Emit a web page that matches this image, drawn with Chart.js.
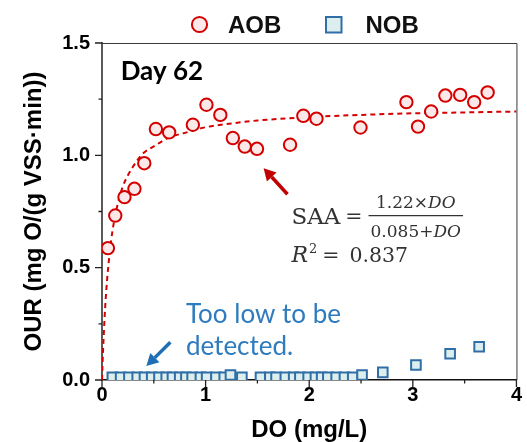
<!DOCTYPE html>
<html><head><meta charset="utf-8">
<script src="https://cdn.jsdelivr.net/npm/chart.js@4"></script>
<style>html,body{margin:0;padding:0;background:#fff}#wrap{width:527px;height:442px}</style>
</head><body><div id="wrap"><canvas id="c" width="527" height="442"></canvas></div>
<script>
// ---- data ----
const aobDO  = [0.057,0.128,0.217,0.313,0.408,0.52,0.648,0.877,1.008,1.142,1.263,1.378,1.496,1.815,1.943,2.07,2.495,2.938,3.05,3.177,3.314,3.457,3.592,3.722];
const aobOUR = [0.587,0.732,0.814,0.851,0.965,1.117,1.102,1.136,1.225,1.18,1.077,1.039,1.029,1.047,1.176,1.163,1.124,1.237,1.128,1.195,1.266,1.269,1.237,1.28];
const nobDO  = [0.1,0.18,0.26,0.34,0.41,0.48,0.55,0.62,0.68,0.75,0.81,0.87,0.95,1.01,1.1,1.18,1.24,1.35,1.53,1.62,1.68,1.77,1.85,1.91,1.99,2.06,2.12,2.18,2.26,2.34,2.42,2.51,2.71,3.03,3.36,3.64];
const nobOUR = [0.012,0.012,0.012,0.012,0.012,0.012,0.012,0.012,0.012,0.012,0.012,0.012,0.012,0.012,0.012,0.012,0.022,0.012,0.012,0.012,0.012,0.012,0.012,0.012,0.012,0.012,0.012,0.012,0.012,0.012,0.012,0.022,0.034,0.067,0.117,0.148];
const fitDO  = [0,0.005,0.01,0.02,0.03,0.05,0.075,0.1,0.15,0.2,0.3,0.4,0.5,0.65,0.8,1.0,1.25,1.5,2.0,2.5,3.0,3.5,4.0];
const fitOUR = [0,0.07,0.13,0.23,0.32,0.45,0.57,0.66,0.78,0.86,0.95,1.01,1.04,1.08,1.10,1.125,1.142,1.155,1.17,1.18,1.187,1.191,1.195];
const seriesNames = ['AOB','NOB'];
const xTickValues = [0,1,2,3,4];
const xTickLabels = ['0','1','2','3','4'];
const xMinorTicks = [0.5,1.5,2.5,3.5];
const yTickValues = [0,0.5,1,1.5];
const yTickLabels = ['0.0','0.5','1.0','1.5'];
const yMinorTicks = [0.25,0.75,1.25];
const xTitle = 'DO (mg/L)';
const yTitle = 'OUR (mg O/(g VSS·min))';
const dayLabel = 'Day 62';
const noteLines = ['Too low to be','detected.'];
const eqNum = ['1.22','×','DO'];
const eqDen = ['0.085','+','DO'];
const r2Value = '0.837';

// ---- styles ----
const SANS = '"Liberation Sans", Arial, sans-serif';
const LATO = 'Lato, "Open Sans", sans-serif';
const SERIF = '"DejaVu Serif", serif';
const RED = '#d40000', RED_FILL = '#fbe9e9';
const BLUE = '#2f6ea6', BLUE_FILL = '#dcefee';
const NOTE_BLUE = '#2e7bbd';
const EQ_COLOR = '#333333';

const toXY = (xs, ys) => xs.map((v, i) => ({x: v, y: ys[i]}));

const annot = {
  day: {x: 0.18, y: 1.336},
  eq: {x: 1.828, y: 0.732},
  r2: {x: 1.828, y: 0.526},
  note: {x: 0.81, y1: 0.254, y2: 0.111},
  redArrow: {x1: 1.79, y1: 0.827, x2: 1.56, y2: 0.943},
  blueArrow: {x1: 0.66, y1: 0.168, x2: 0.428, y2: 0.062}
};

function arrow(ctx, x1, y1, x2, y2, color, lw, head, hw) {
  const a = Math.atan2(y2 - y1, x2 - x1);
  const bx = x2 - head * Math.cos(a), by = y2 - head * Math.sin(a);
  ctx.save();
  ctx.strokeStyle = color; ctx.fillStyle = color; ctx.lineWidth = lw;
  ctx.beginPath(); ctx.moveTo(x1, y1); ctx.lineTo(bx, by); ctx.stroke();
  ctx.beginPath();
  ctx.moveTo(x2, y2);
  ctx.lineTo(bx + hw * Math.sin(a), by - hw * Math.cos(a));
  ctx.lineTo(bx - hw * Math.sin(a), by + hw * Math.cos(a));
  ctx.closePath(); ctx.fill();
  ctx.restore();
}

function drawSeq(ctx, parts, x, y) {
  let cx = x;
  for (const [t, f] of parts) { ctx.font = f; ctx.fillText(t, cx, y); cx += ctx.measureText(t).width; }
  return cx - x;
}
function seqWidth(ctx, parts) {
  let w = 0;
  for (const [t, f] of parts) { ctx.font = f; w += ctx.measureText(t).width; }
  return w;
}

const decorations = {
  id: 'decorations',
  afterDraw(chart) {
    const {ctx, chartArea: ca, scales: {x, y}} = chart;
    ctx.save();
    // frame top & right
    ctx.strokeStyle = '#3a3a3a'; ctx.lineWidth = 1;
    ctx.beginPath();
    ctx.moveTo(ca.left, ca.top + 0.5); ctx.lineTo(ca.right + 0.5, ca.top + 0.5); ctx.lineTo(ca.right + 0.5, ca.bottom);
    ctx.stroke();
    // ticks
    ctx.strokeStyle = '#222'; ctx.lineWidth = 1.3;
    ctx.beginPath();
    xTickValues.forEach(v => { const p = x.getPixelForValue(v); ctx.moveTo(p, ca.bottom); ctx.lineTo(p, ca.bottom + 7); });
    xMinorTicks.forEach(v => { const p = x.getPixelForValue(v); ctx.moveTo(p, ca.bottom); ctx.lineTo(p, ca.bottom + 3.5); });
    yTickValues.forEach(v => { const p = y.getPixelForValue(v); ctx.moveTo(ca.left, p); ctx.lineTo(ca.left - 7, p); });
    yMinorTicks.forEach(v => { const p = y.getPixelForValue(v); ctx.moveTo(ca.left, p); ctx.lineTo(ca.left - 3.5, p); });
    ctx.stroke();

    // legend
    ctx.lineWidth = 2;
    ctx.strokeStyle = RED; ctx.fillStyle = RED_FILL;
    ctx.beginPath(); ctx.arc(199.5, 24.5, 7.6, 0, Math.PI * 2); ctx.fill(); ctx.stroke();
    ctx.strokeStyle = BLUE; ctx.fillStyle = BLUE_FILL;
    ctx.beginPath(); ctx.rect(326, 17, 15.5, 15.5); ctx.fill(); ctx.stroke();
    ctx.fillStyle = '#111'; ctx.font = 'bold 24px ' + SANS; ctx.textBaseline = 'alphabetic'; ctx.textAlign = 'left';
    ctx.fillText(seriesNames[0], 228, 33);
    ctx.fillText(seriesNames[1], 365.5, 33);

    // Day label
    ctx.fillStyle = '#000'; ctx.font = 'bold 26px ' + LATO;
    ctx.fillText(dayLabel, x.getPixelForValue(annot.day.x), y.getPixelForValue(annot.day.y));

    // note
    ctx.fillStyle = NOTE_BLUE; ctx.font = '26px ' + LATO;
    ctx.fillText(noteLines[0], x.getPixelForValue(annot.note.x), y.getPixelForValue(annot.note.y1));
    ctx.fillText(noteLines[1], x.getPixelForValue(annot.note.x), y.getPixelForValue(annot.note.y2));

    // arrows
    const ra = annot.redArrow, ba = annot.blueArrow;
    arrow(ctx, x.getPixelForValue(ra.x1), y.getPixelForValue(ra.y1), x.getPixelForValue(ra.x2), y.getPixelForValue(ra.y2), '#c00000', 3.5, 12, 6.5);
    arrow(ctx, x.getPixelForValue(ba.x1), y.getPixelForValue(ba.y1), x.getPixelForValue(ba.x2), y.getPixelForValue(ba.y2), '#1f6fb5', 3.5, 12, 6.5);

    // equation
    const ex = x.getPixelForValue(annot.eq.x), ey = y.getPixelForValue(annot.eq.y);
    const FC = '23px ' + SERIF, F = '20.5px ' + SERIF, FI = 'italic 22px ' + SERIF, FS = '17px ' + SERIF, FSI = 'italic 17px ' + SERIF;
    ctx.fillStyle = EQ_COLOR; ctx.strokeStyle = EQ_COLOR;
    let w = drawSeq(ctx, [['SAA', FC]], ex, ey + 8);
    const eqX = ex + w + 5;
    ctx.font = F; ctx.fillText('=', eqX, ey + 7);
    const fracL = eqX + ctx.measureText('=').width + 6;
    const numParts = [[eqNum[0], FS], [eqNum[1], FS], [eqNum[2], FSI]];
    const denParts = [[eqDen[0], FS], [eqDen[1], FS], [eqDen[2], FSI]];
    const nw = seqWidth(ctx, numParts), dw = seqWidth(ctx, denParts);
    const fw = Math.max(nw, dw) + 4;
    ctx.lineWidth = 1.2;
    ctx.beginPath(); ctx.moveTo(fracL, ey); ctx.lineTo(fracL + fw, ey); ctx.stroke();
    drawSeq(ctx, numParts, fracL + (fw - nw) / 2, ey - 8);
    drawSeq(ctx, denParts, fracL + (fw - dw) / 2, ey + 21);

    // R^2
    const rx = x.getPixelForValue(annot.r2.x), ry = y.getPixelForValue(annot.r2.y);
    let cx = rx;
    ctx.font = FI; ctx.fillText('R', cx, ry); cx += ctx.measureText('R').width + 1;
    ctx.font = '13px ' + SERIF; ctx.fillText('2', cx, ry - 9); cx += ctx.measureText('2').width + 5;
    ctx.font = F; ctx.fillText('=', cx, ry); cx += ctx.measureText('=').width + 10;
    ctx.fillText(r2Value, cx, ry);
    ctx.restore();
  }
};

new Chart(document.getElementById('c'), {
  type: 'scatter',
  data: {
    datasets: [
      {label: 'fit', type: 'line', data: toXY(fitDO, fitOUR), borderColor: RED, borderWidth: 2, borderDash: [5, 4],
       pointRadius: 0, fill: false, cubicInterpolationMode: 'monotone', order: 3},
      {label: seriesNames[1], data: toXY(nobDO, nobOUR), pointStyle: 'rect', pointRadius: 6.8, borderWidth: 2,
       borderColor: BLUE, backgroundColor: BLUE_FILL, clip: 0, order: 2},
      {label: seriesNames[0], data: toXY(aobDO, aobOUR), pointStyle: 'circle', pointRadius: 6.2, borderWidth: 2,
       borderColor: RED, backgroundColor: RED_FILL, order: 1}
    ]
  },
  options: {
    responsive: false, animation: false, devicePixelRatio: 1,
    layout: {padding: {top: 43, right: 7, left: 0, bottom: 0}},
    plugins: {legend: {display: false}, tooltip: {enabled: false}},
    scales: {
      x: {
        type: 'linear', min: 0, max: 4, z: 1,
        afterBuildTicks: s => { s.ticks = xTickValues.map(v => ({value: v})); },
        ticks: {color: '#000', padding: 5, font: {family: SANS, size: 20, weight: 'bold', lineHeight: 1},
                callback: (v) => xTickLabels[xTickValues.indexOf(v)] ?? ''},
        grid: {display: true, drawOnChartArea: false, drawTicks: false},
        border: {display: true, color: '#111', width: 1.5},
        title: {display: true, text: xTitle, color: '#000', padding: 0,
                font: {family: SANS, size: 24, weight: 'bold', lineHeight: 1}},
        afterFit: s => { s.height = 62; }
      },
      y: {
        type: 'linear', min: 0, max: 1.5, z: 1,
        afterBuildTicks: s => { s.ticks = yTickValues.map(v => ({value: v})); },
        ticks: {color: '#000', padding: 12, font: {family: SANS, size: 20, weight: 'bold', lineHeight: 1},
                callback: (v) => yTickLabels[yTickValues.indexOf(v)] ?? ''},
        grid: {display: true, drawOnChartArea: false, drawTicks: false},
        border: {display: true, color: '#5a5a5a', width: 2},
        title: {display: true, text: yTitle, color: '#000', padding: {top: 22, bottom: 0},
                font: {family: SANS, size: 24, weight: 'bold', lineHeight: 1}},
        afterFit: s => { s.width = 102; }
      }
    }
  },
  plugins: [decorations]
});
</script>
</body></html>
